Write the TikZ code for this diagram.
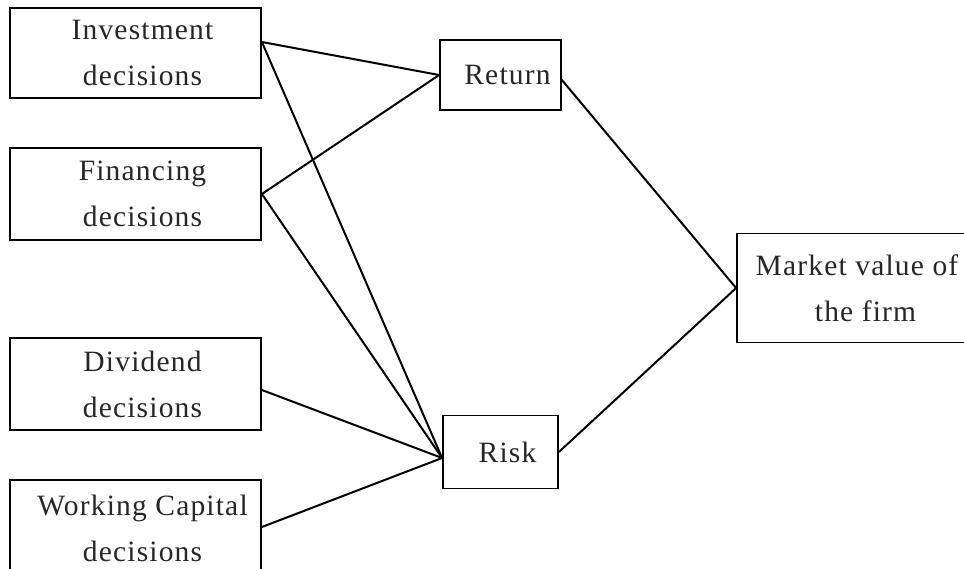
\documentclass[tikz,border=0pt]{standalone}
\usepackage{fontspec}
\setmainfont{Liberation Serif}[LetterSpace=4]
\usetikzlibrary{calc}
\newcommand\padl{\hspace*{14pt}}
\begin{document}
\begin{tikzpicture}[x=1pt,y=-1pt,
  box/.style={draw, line width=1.8pt, inner sep=0pt, align=center,
    font=\fontsize{29.5}{46}\selectfont, text=black!85},
  link/.style={line width=2pt, line cap=round}]
\useasboundingbox (0,0) rectangle (964,569);
\clip (0,0) rectangle (964,569);
\node[box, minimum width=251pt, minimum height=90pt] (inv) at (135.5,53) {\padl Investment\\\padl decisions};
\node[box, minimum width=251pt, minimum height=92pt] (fin) at (135.5,194) {\padl Financing\\\padl decisions};
\node[box, minimum width=251pt, minimum height=92pt] (div) at (135.5,384) {\padl Dividend\\\padl decisions};
\node[box, minimum width=251pt, minimum height=96pt] (wc) at (135.5,528) {\padl Working Capital\\\padl decisions};
\node[box, minimum width=121pt, minimum height=70pt] (ret) at (500.5,75) {\padl Return};
\node[box, minimum width=115pt, minimum height=73pt] (risk) at (500.5,452) {\padl Risk};
\node[box, minimum width=240pt, minimum height=109pt] (mkt) at (857,288) {Market value of\\\ \ the firm};
\coordinate (ri) at ($(risk.west)+(0,6)$);
\coordinate (io) at ($(inv.east)+(0,-11)$);
\coordinate (ro) at ($(ret.east)+(0,5)$);
\draw[link] (io) -- (ret.west);
\draw[link] (io) -- (ri);
\draw[link] (fin.east) -- (ret.west);
\draw[link] (fin.east) -- (ri);
\draw[link] ($(div.east)+(0,6)$) -- (ri);
\draw[link] ($(wc.east)+(0,-1)$) -- (ri);
\draw[link] (ro) -- (mkt.west);
\draw[link] (risk.east) -- (mkt.west);
\end{tikzpicture}
\end{document}
